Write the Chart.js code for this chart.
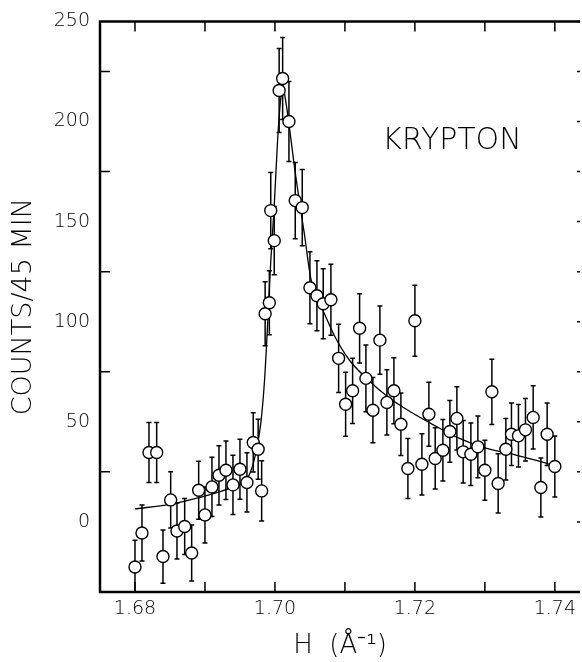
<!DOCTYPE html>
<html>
<head>
<meta charset="utf-8">
<title>Krypton</title>
<script src="https://cdn.jsdelivr.net/npm/chart.js@4.4.0/dist/chart.umd.min.js"></script>
<style>
  body { margin: 0; background: #fff; }
  canvas { display: block; }
</style>
</head>
<body>
<canvas id="myChart" width="582" height="662"></canvas>
<script>
// measured points, H in 1/Angstrom
var hx = [1.6800, 1.6810, 1.6820, 1.6831, 1.6840, 1.6851, 1.6860, 1.6871, 1.6881, 1.6891,
  1.6900, 1.6910, 1.6920, 1.6930, 1.6940, 1.6950, 1.6960, 1.6969, 1.6976, 1.6981,
  1.6986, 1.6992, 1.6994, 1.6999, 1.7006, 1.7011, 1.7020, 1.7029, 1.7039, 1.7050,
  1.7060, 1.7069, 1.7080, 1.7091, 1.7101, 1.7111, 1.7121, 1.7130, 1.7140, 1.7150,
  1.7160, 1.7170, 1.7180, 1.7190, 1.7200, 1.7210, 1.7220, 1.7229, 1.7240, 1.7250,
  1.7260, 1.7269, 1.7280, 1.7290, 1.7300, 1.7310, 1.7319, 1.7330, 1.7338, 1.7348,
  1.7358, 1.7369, 1.7380, 1.7389, 1.7400];
var counts = [-22.5, -5.5, 34.7, 34.7, -17.3, 11, -4.5, -2.3, -15.5, 15.8,
  3.5, 17.5, 23.3, 25.8, 18.5, 26.3, 19.7, 39.7, 36.3, 15.5,
  104, 109.5, 155.5, 140.5, 215.5, 221.5, 200, 160.5, 157, 117,
  113, 109, 111, 81.7, 58.8, 65.5, 96.7, 71.7, 55.8, 90.8,
  59.7, 65.5, 48.8, 26.7, 100.5, 28.8, 53.8, 31.7, 35.8, 45.2,
  51.7, 35, 33.8, 37.5, 25.8, 65, 19.2, 36.3, 43.8, 43,
  46, 52.2, 17.2, 43.8, 27.7];
var errs = [13.3, 14, 15, 15, 13.3, 14, 14, 14, 14, 14.5,
  14, 14.8, 14.8, 14.6, 14.8, 15, 14.8, 14.8, 15, 15,
  16, 16, 19, 17, 21, 20.5, 20, 19, 19, 18,
  17.5, 17.5, 17.7, 17, 16, 16.3, 17.3, 16.7, 16.3, 17,
  16.3, 16.5, 15.6, 15, 17.7, 15.3, 16, 15.3, 15.4, 15.4,
  15.8, 15.6, 15.6, 15.4, 15, 16.3, 14.8, 15.3, 15.6, 15.6,
  15.6, 15.8, 14.7, 15.6, 15.2];

// fitted line shape
var fitX = [1.6800, 1.6850, 1.6890, 1.6940, 1.6960, 1.6968, 1.6975, 1.6980, 1.6985, 1.6989,
  1.6994, 1.6999, 1.7004, 1.7009, 1.7011, 1.7015, 1.7020, 1.7028, 1.7035, 1.7042,
  1.7051, 1.7061, 1.7068, 1.7085, 1.7106, 1.7130, 1.7163, 1.7196, 1.7229, 1.7262,
  1.7300, 1.7338, 1.7391];
var fitY = [6.5, 8.8, 12, 17.5, 21.5, 28, 38.5, 50, 70, 95,
  130, 158, 192, 214, 218, 211, 199, 177, 160, 144,
  122, 110.5, 106, 93, 81, 72, 62, 54.5, 48, 42,
  37, 34, 29];

var xTicks = [1.68, 1.69, 1.70, 1.71, 1.72, 1.73, 1.74];
var xLabels = [1.68, 1.70, 1.72, 1.74];
var yTicks = [0, 25, 50, 75, 100, 125, 150, 175, 200, 225, 250];
var yLabels = [0, 50, 100, 150, 200, 250];
var yLeftTicks = [25, 75, 125, 175, 225];

var FONT = "'DejaVu Sans', sans-serif";
var INK = '#000';

var frame = {
  id: 'frame',
  beforeDatasetsDraw: function (chart) {
    var ctx = chart.ctx, xs = chart.scales.x, ys = chart.scales.y, a = chart.chartArea;
    ctx.save();
    ctx.beginPath();
    ctx.rect(a.left, a.top, a.right - a.left, a.bottom - a.top);
    ctx.clip();
    ctx.strokeStyle = INK;
    ctx.lineWidth = 1.5;
    for (var i = 0; i < hx.length; i++) {
      var px = xs.getPixelForValue(hx[i]);
      var top = ys.getPixelForValue(counts[i] + errs[i]);
      var bot = ys.getPixelForValue(counts[i] - errs[i]);
      ctx.beginPath();
      ctx.moveTo(px, top); ctx.lineTo(px, bot);
      ctx.moveTo(px - 2.5, top); ctx.lineTo(px + 2.5, top);
      ctx.moveTo(px - 2.5, bot); ctx.lineTo(px + 2.5, bot);
      ctx.stroke();
    }
    ctx.restore();
  },
  afterDraw: function (chart) {
    var ctx = chart.ctx, xs = chart.scales.x, ys = chart.scales.y, a = chart.chartArea;
    ctx.save();
    ctx.strokeStyle = INK;
    ctx.lineWidth = 2.5;
    ctx.beginPath();
    ctx.moveTo(a.right, a.top); ctx.lineTo(a.left, a.top);
    ctx.lineTo(a.left, a.bottom); ctx.lineTo(a.right, a.bottom);
    ctx.stroke();

    ctx.lineWidth = 1.5;
    ctx.beginPath();
    xTicks.forEach(function (v) {
      var px = xs.getPixelForValue(v);
      ctx.moveTo(px, a.top); ctx.lineTo(px, a.top + 10);
      ctx.moveTo(px, a.bottom); ctx.lineTo(px, a.bottom - 10);
    });
    yLeftTicks.forEach(function (v) {
      var py = ys.getPixelForValue(v);
      ctx.moveTo(a.left, py); ctx.lineTo(a.left + 10, py);
    });
    yTicks.forEach(function (v) {
      var py = ys.getPixelForValue(v);
      ctx.moveTo(a.right, py); ctx.lineTo(a.right - 3, py);
    });
    ctx.stroke();

    // sample name
    ctx.fillStyle = INK;
    ctx.font = '200 30px ' + FONT;
    ctx.textAlign = 'center';
    ctx.textBaseline = 'middle';
    ctx.fillText('KRYPTON', xs.getPixelForValue(1.7253), ys.getPixelForValue(190));
    ctx.restore();
  }
};

new Chart('myChart', {
  type: 'scatter',
  data: {
    datasets: [{
      data: hx.map(function (x, i) { return { x: x, y: counts[i] }; }),
      pointStyle: 'circle',
      pointRadius: 6,
      borderWidth: 1.4,
      borderColor: INK,
      backgroundColor: '#fff'
    }, {
      data: fitX.map(function (x, i) { return { x: x, y: fitY[i] }; }),
      showLine: true,
      pointRadius: 0,
      borderWidth: 1.3,
      borderColor: INK,
      cubicInterpolationMode: 'monotone',
      fill: false
    }]
  },
  options: {
    responsive: false,
    animation: false,
    devicePixelRatio: 1,
    layout: { autoPadding: false, padding: { top: 21, left: 0, right: 0, bottom: 0 } },
    plugins: { legend: { display: false }, tooltip: { enabled: false } },
    scales: {
      x: {
        type: 'linear',
        min: 1.675,
        max: 1.7436,
        afterBuildTicks: function (s) { s.ticks = xTicks.map(function (v) { return { value: v }; }); },
        afterFit: function (s) { s.height = 70; },
        grid: { display: false, drawTicks: false },
        border: { display: false },
        ticks: {
          autoSkip: false,
          maxRotation: 0,
          padding: 6,
          color: INK,
          font: { family: FONT, size: 19, weight: 200 },
          callback: function (v) {
            return xLabels.some(function (l) { return Math.abs(l - v) < 1e-6; }) ? v.toFixed(2) : '';
          }
        },
        title: {
          display: true,
          text: 'H  (Å⁻¹)',
          color: INK,
          font: { family: FONT, size: 26, weight: 200 },
          padding: { top: 0, bottom: 0 }
        }
      },
      y: {
        min: -35,
        max: 250,
        afterBuildTicks: function (s) { s.ticks = yTicks.map(function (v) { return { value: v }; }); },
        afterFit: function (s) { s.width = 100; },
        grid: { display: false, drawTicks: false },
        border: { display: false },
        ticks: {
          autoSkip: false,
          padding: 10,
          color: INK,
          font: { family: FONT, size: 19, weight: 200 },
          callback: function (v) { return yLabels.indexOf(v) >= 0 ? String(v) : ''; }
        },
        title: {
          display: true,
          text: 'COUNTS/45 MIN',
          color: INK,
          font: { family: FONT, size: 27, weight: 200 },
          padding: { top: 8, bottom: 0 }
        }
      }
    }
  },
  plugins: [frame]
});
</script>
</body>
</html>
